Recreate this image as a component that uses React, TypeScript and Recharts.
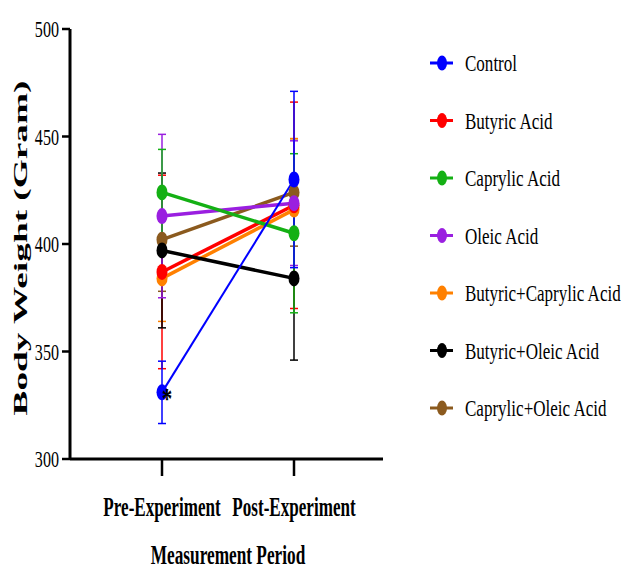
import React from 'react';
import { LineChart, Line, XAxis, YAxis, ErrorBar, Legend, LabelList } from 'recharts';

const periods = ['Pre-Experiment', 'Post-Experiment'];
const groups = [
  'Control',
  'Butyric Acid',
  'Caprylic Acid',
  'Oleic Acid',
  'Butyric+Caprylic Acid',
  'Butyric+Oleic Acid',
  'Caprylic+Oleic Acid',
];
const colors = ['#0000FF', '#FF0000', '#14B014', '#9A1FE0', '#FF8000', '#000000', '#8B5A1E'];

const controlMean = [331, 430];
const controlSD = [14.5, 41];
const butyricMean = [387, 418];
const butyricSD = [45, 48];
const caprylicMean = [424, 405];
const caprylicSD = [20, 37];
const oleicMean = [413, 419];
const oleicSD = [38, 29];
const butCapMean = [384, 416];
const butCapSD = [20, 33];
const butOleMean = [397, 384];
const butOleSD = [36, 38];
const capOleMean = [402, 424];
const capOleSD = [24, 25];

const significance = ['*', ''];
const yTicks = [300, 350, 400, 450, 500];

const means = [controlMean, butyricMean, caprylicMean, oleicMean, butCapMean, butOleMean, capOleMean];
const sds = [controlSD, butyricSD, caprylicSD, oleicSD, butCapSD, butOleSD, capOleSD];

const data = periods.map((p, i) => {
  const row: any = { period: p, sig: significance[i] };
  groups.forEach((_, k) => {
    row['m' + k] = means[k][i];
    row['e' + k] = sds[k][i];
  });
  return row;
});

// drawing order (bottom -> top)
const drawOrder = [6, 4, 1, 5, 3, 2, 0];

const SERIF = "'Liberation Serif', 'Times New Roman', serif";
const serifStyle = { fontFamily: SERIF };

const YTick = (props: any) => {
  const { x, y, payload } = props;
  return (
    <text
      transform={`translate(${x},${y + 8}) scale(0.7,1)`}
      textAnchor="end"
      style={serifStyle}
      fontSize={23}
      fill="#000"
    >
      {payload.value}
    </text>
  );
};

const XTick = (props: any) => {
  const { x, y, payload } = props;
  return (
    <text
      transform={`translate(${x},${y + 40}) scale(0.61,1)`}
      textAnchor="middle"
      style={serifStyle}
      fontWeight="bold"
      fontSize={28}
      fill="#000"
    >
      {payload.value}
    </text>
  );
};

const XLabel = (props: any) => {
  const vb = props.viewBox || { x: 70, y: 459, width: 313, height: 111 };
  const cx = vb.x + vb.width / 2 + 1.5;
  const by = vb.y + 105;
  return (
    <text
      transform={`translate(${cx},${by}) scale(0.64,1)`}
      textAnchor="middle"
      style={serifStyle}
      fontWeight="bold"
      fontSize={27}
      fill="#000"
    >
      Measurement Period
    </text>
  );
};

const YLabel = (props: any) => {
  const vb = props.viewBox || { x: 0, y: 29, width: 70, height: 430 };
  const cy = vb.y + vb.height / 2 + 4;
  return (
    <text
      transform={`translate(27,${cy}) rotate(-90) scale(1,0.72)`}
      textAnchor="middle"
      style={serifStyle}
      fontWeight="bold"
      fontSize={25}
      textLength={335}
      lengthAdjust="spacingAndGlyphs"
      fill="#000"
    >
      Body Weight (Gram)
    </text>
  );
};

const makeDot = (color: string) => (props: any) => {
  const { cx, cy, index } = props;
  if (cx == null || cy == null) return <g key={`d-${index}`} />;
  return <ellipse key={`d-${index}`} cx={cx} cy={cy} rx={5.5} ry={8} fill={color} stroke="none" />;
};

const Asterisk = (props: any) => {
  const { x, y, value } = props;
  if (!value) return null;
  return (
    <text
      transform={`translate(${x + 5},${y + 16}) scale(0.7,1)`}
      textAnchor="middle"
      style={serifStyle}
      fontWeight="bold"
      fontSize={30}
      fill="#000"
    >
      {value}
    </text>
  );
};

const LegendContent = () => (
  <svg width={200} height={410} style={{ display: 'block', overflow: 'visible' }}>
    {groups.map((g, i) => {
      const cy = 33 + i * 57.5;
      return (
        <g key={g}>
          <line x1={5} y1={cy} x2={28} y2={cy} stroke={colors[i]} strokeWidth={3} />
          <ellipse cx={17} cy={cy} rx={5} ry={7.5} fill={colors[i]} />
          <text
            transform={`translate(40,${cy + 8}) scale(0.71,1)`}
            style={serifStyle}
            fontSize={24}
            fill="#000"
          >
            {g}
          </text>
        </g>
      );
    })}
  </svg>
);

export default function App() {
  return (
    <div style={{ position: 'absolute', left: 0, top: 0, width: 625, height: 570, background: '#fff' }}>
      <LineChart
        width={625}
        height={570}
        data={data}
        margin={{ top: 29, right: 242, bottom: 0, left: 0 }}
      >
        <XAxis
          dataKey="period"
          padding={{ left: 92, right: 89 }}
          axisLine={{ stroke: '#000', strokeWidth: 3 }}
          tickLine={{ stroke: '#000', strokeWidth: 2.5 }}
          tickSize={17}
          tickMargin={0}
          height={111}
          tick={<XTick />}
          interval={0}
          label={<XLabel />}
        />
        <YAxis
          domain={[300, 500]}
          ticks={yTicks}
          width={70}
          axisLine={{ stroke: '#000', strokeWidth: 3 }}
          tickLine={{ stroke: '#000', strokeWidth: 2.5 }}
          tickSize={8}
          tickMargin={3}
          tick={<YTick />}
          allowDataOverflow
          label={<YLabel />}
        />
        <Legend
          layout="vertical"
          align="center"
          verticalAlign="middle"
          content={<LegendContent />}
          wrapperStyle={{ left: 425, top: 30, width: 200, height: 410 }}
        />
        {drawOrder.map((k) => (
          <Line
            key={groups[k]}
            dataKey={'m' + k}
            name={groups[k]}
            stroke={colors[k]}
            strokeWidth={k === 0 ? 2 : 3.5}
            dot={makeDot(colors[k])}
            activeDot={false}
            isAnimationActive={false}
          >
            <ErrorBar
              dataKey={'e' + k}
              direction="y"
              width={4}
              stroke={colors[k]}
              strokeWidth={1.5}
              isAnimationActive={false}
            />
            {k === 0 ? <LabelList dataKey="sig" content={<Asterisk />} /> : null}
          </Line>
        ))}
      </LineChart>
    </div>
  );
}
